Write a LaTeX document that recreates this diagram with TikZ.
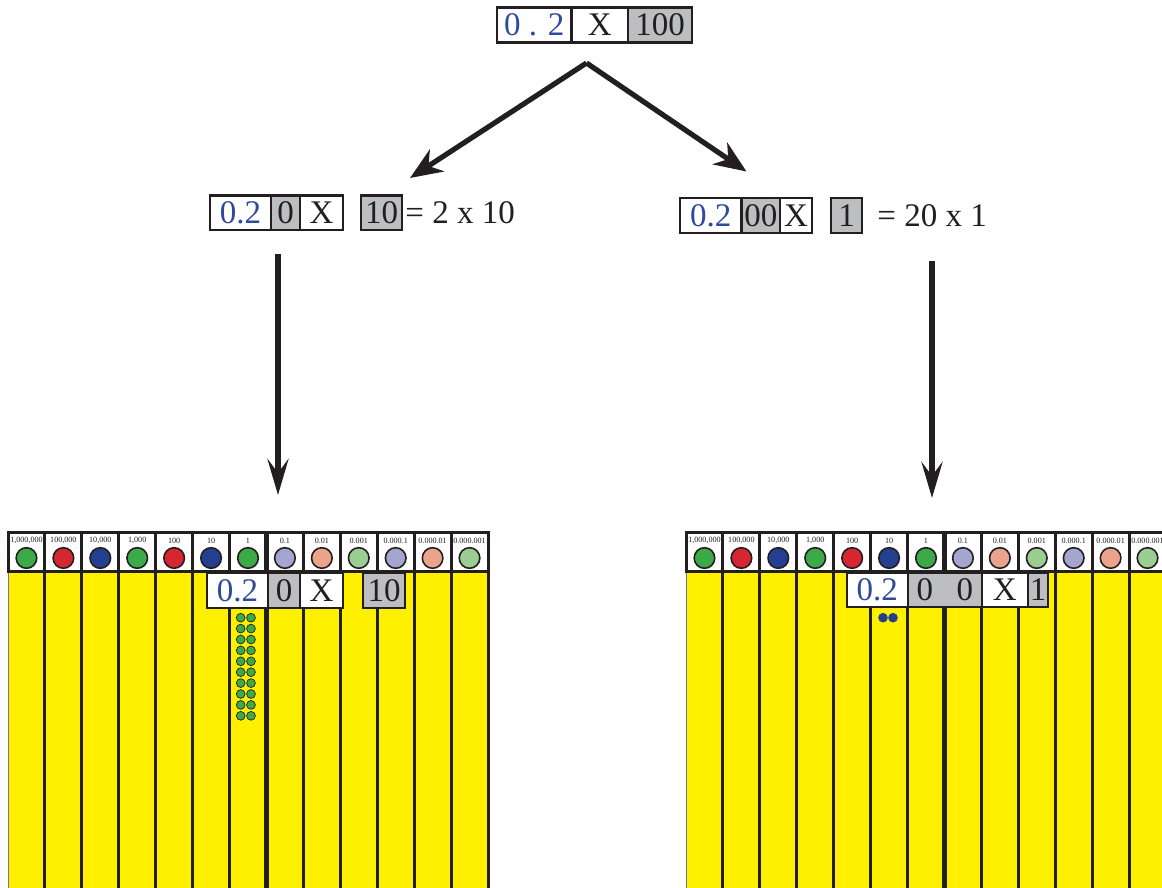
\documentclass[tikz,border=0pt]{standalone}
\usepackage{fontspec}
\setmainfont{Liberation Serif}
\usetikzlibrary{arrows.meta}
\definecolor{ink}{HTML}{231F20}
\definecolor{cellgray}{HTML}{BCBEC0}
\definecolor{numblue}{HTML}{2E4A9C}
\definecolor{boardyellow}{HTML}{FFF000}
\definecolor{cgreen}{HTML}{3DAA4A}
\definecolor{cred}{HTML}{D62631}
\definecolor{cnavy}{HTML}{243F8F}
\definecolor{clav}{HTML}{A5A6CF}
\definecolor{csalmon}{HTML}{EBA38C}
\definecolor{clgreen}{HTML}{9CCD93}
\newcommand{\bigtxt}{\fontsize{16.5}{18}\selectfont}
\newcommand{\tinytxt}{\fontsize{4.05}{5}\selectfont}
\begin{document}
\begin{tikzpicture}[x=0.5pt,y=-0.5pt,
  cell/.style={draw=ink, line width=1.2pt, fill=white, inner sep=0pt, font=\bigtxt, text=ink},
  gcell/.style={cell, fill=cellgray},
  bcell/.style={cell, text=numblue},
  eqtext/.style={anchor=west, inner sep=0pt, font=\bigtxt, text=ink},
  splitarrow/.style={draw=ink, line width=2.6pt, line cap=butt, -{Stealth[length=16pt,width=13pt,inset=5pt]}},
  downarrow/.style={draw=ink, line width=2.8pt, -{Stealth[length=18pt,width=10.5pt,inset=7pt]}},
  placelabel/.style={inner sep=0pt, font=\tinytxt, text=ink},
  coin/.style={circle, minimum size=10.3pt, inner sep=0pt, draw=ink, line width=0.8pt},
  counter/.style={circle, minimum size=4.4pt, inner sep=0pt, draw=ink, line width=0.35pt},
]
\useasboundingbox (0,0) rectangle (1162,888);
\clip (0,0) rectangle (1162,888);

% ---- top expression ----
\node[bcell, minimum width=37.25pt, minimum height=17.5pt] (t1) at (534.25,25) {0 . 2};
\node[cell,  minimum width=28.25pt, minimum height=17.5pt] (t2) at (599.75,25) {X};
\node[gcell, minimum width=32pt,    minimum height=17.5pt] (t3) at (660,25) {100};

% ---- left branch: 2 x 10 ----
\node[bcell, minimum width=30.5pt, minimum height=17.25pt] (a1) at (240.5,212.75) {0.2};
\node[gcell, minimum width=14.5pt, minimum height=17.25pt] (a2) at (285.5,212.75) {0};
\node[cell,  minimum width=21.5pt, minimum height=17.25pt] (a3) at (321.5,212.75) {X};
\node[gcell, minimum width=20.5pt, minimum height=17.25pt] (a4) at (381.5,212.75) {10};
\node[eqtext] (aeq) at (405,213) {= 2 x 10};

% ---- right branch: 20 x 1 ----
\node[bcell, minimum width=30.75pt, minimum height=17.5pt] (b1) at (710.75,215.5) {0.2};
\node[gcell, minimum width=19.25pt, minimum height=17.5pt] (b2) at (760.75,215.5) {00};
\node[cell,  minimum width=16pt,    minimum height=17.5pt] (b3) at (796,215.5) {X};
\node[gcell, minimum width=15.5pt,  minimum height=17.5pt] (b4) at (846.5,215.5) {1};
\node[eqtext] (beq) at (877,216) {= 20 x 1};

% ---- arrows ----
\coordinate (split) at (586.5,63);
\coordinate (lefthead) at (410,178);
\coordinate (righthead) at (746.5,171.5);
\draw[splitarrow] (split) -- (lefthead);
\draw[splitarrow] (split) -- (righthead);
\coordinate (ldown0) at (278,254);
\coordinate (ldown1) at (278,495);
\coordinate (rdown0) at (932,261);
\coordinate (rdown1) at (932,498);
\draw[downarrow] (ldown0) -- (ldown1);
\draw[downarrow] (rdown0) -- (rdown1);

% ---- place-value boards ----
\def\colw{36.923}
\foreach \bx/\side in {8/L, 686/R} {
  \fill[boardyellow] (\bx,571) rectangle ({\bx+13*\colw},900);
  \foreach \i in {0,...,12} {
    \draw[ink, line width=1.5pt, fill=white] ({\bx+\i*\colw},532) rectangle ({\bx+(\i+1)*\colw},571);
  }
  \draw[ink!60, line width=0.5pt] (\bx,571) -- (\bx,900);
  \foreach \i in {1,...,13} {
    \pgfmathsetmacro\lw{\i==7 ? 2.3 : 1.5}
    \draw[ink, line width=\lw pt] ({\bx+\i*\colw},532) -- ({\bx+\i*\colw},900);
  }
  \draw[ink, line width=1.5pt] (\bx,571) -- ({\bx+13*\colw},571);
  \foreach \lab/\col [count=\i from 0] in {{1,000,000}/cgreen, {100,000}/cred, {10,000}/cnavy,
      {1,000}/cgreen, 100/cred, 10/cnavy, 1/cgreen, 0.1/clav, 0.01/csalmon, 0.001/clgreen,
      0.000.1/clav, 0.000.01/csalmon, 0.000.001/clgreen} {
    \node[placelabel] (\side-l\i) at ({\bx+(\i+0.5)*\colw},540.5) {\lab};
    \node[coin, fill=\col] (\side-c\i) at ({\bx+(\i+0.5)*\colw},558) {};
  }
}

% ---- left board: 0.2 x 10 ----
\node[bcell, minimum width=30.5pt, minimum height=17.5pt] (la1) at (237.5,590.5) {0.2};
\node[gcell, minimum width=16pt,   minimum height=17.5pt] (la2) at (284,590.5) {0};
\node[cell,  minimum width=21.5pt, minimum height=17.5pt] (la3) at (321.5,590.5) {X};
\node[gcell, minimum width=21pt,   minimum height=17.5pt] (la4) at (384,590.5) {10};
\foreach \r in {0,...,9} {
  \node[counter, fill=cgreen] (gl-\r) at (240.7,{617.7+\r*10.9}) {};
  \node[counter, fill=cgreen] (gr-\r) at (251,{617.7+\r*10.9}) {};
}

% ---- right board: 0.2 x 1 ----
\node[bcell, minimum width=30.65pt, minimum height=17pt] (rb1) at (877.35,590) {0.2};
\node[gcell, minimum width=36.85pt, minimum height=17pt] (rb2) at (944.85,590) {0\hspace{11.75pt}0};
\node[cell,  minimum width=23.15pt, minimum height=17pt] (rb3) at (1004.85,590) {X};
\node[gcell, minimum width=10pt,    minimum height=17pt] (rb4) at (1038,590) {1};
\node[counter, fill=cnavy, draw=cnavy] (bl) at (883,617.7) {};
\node[counter, fill=cnavy, draw=cnavy] (br) at (893,617.7) {};
\end{tikzpicture}
\end{document}
